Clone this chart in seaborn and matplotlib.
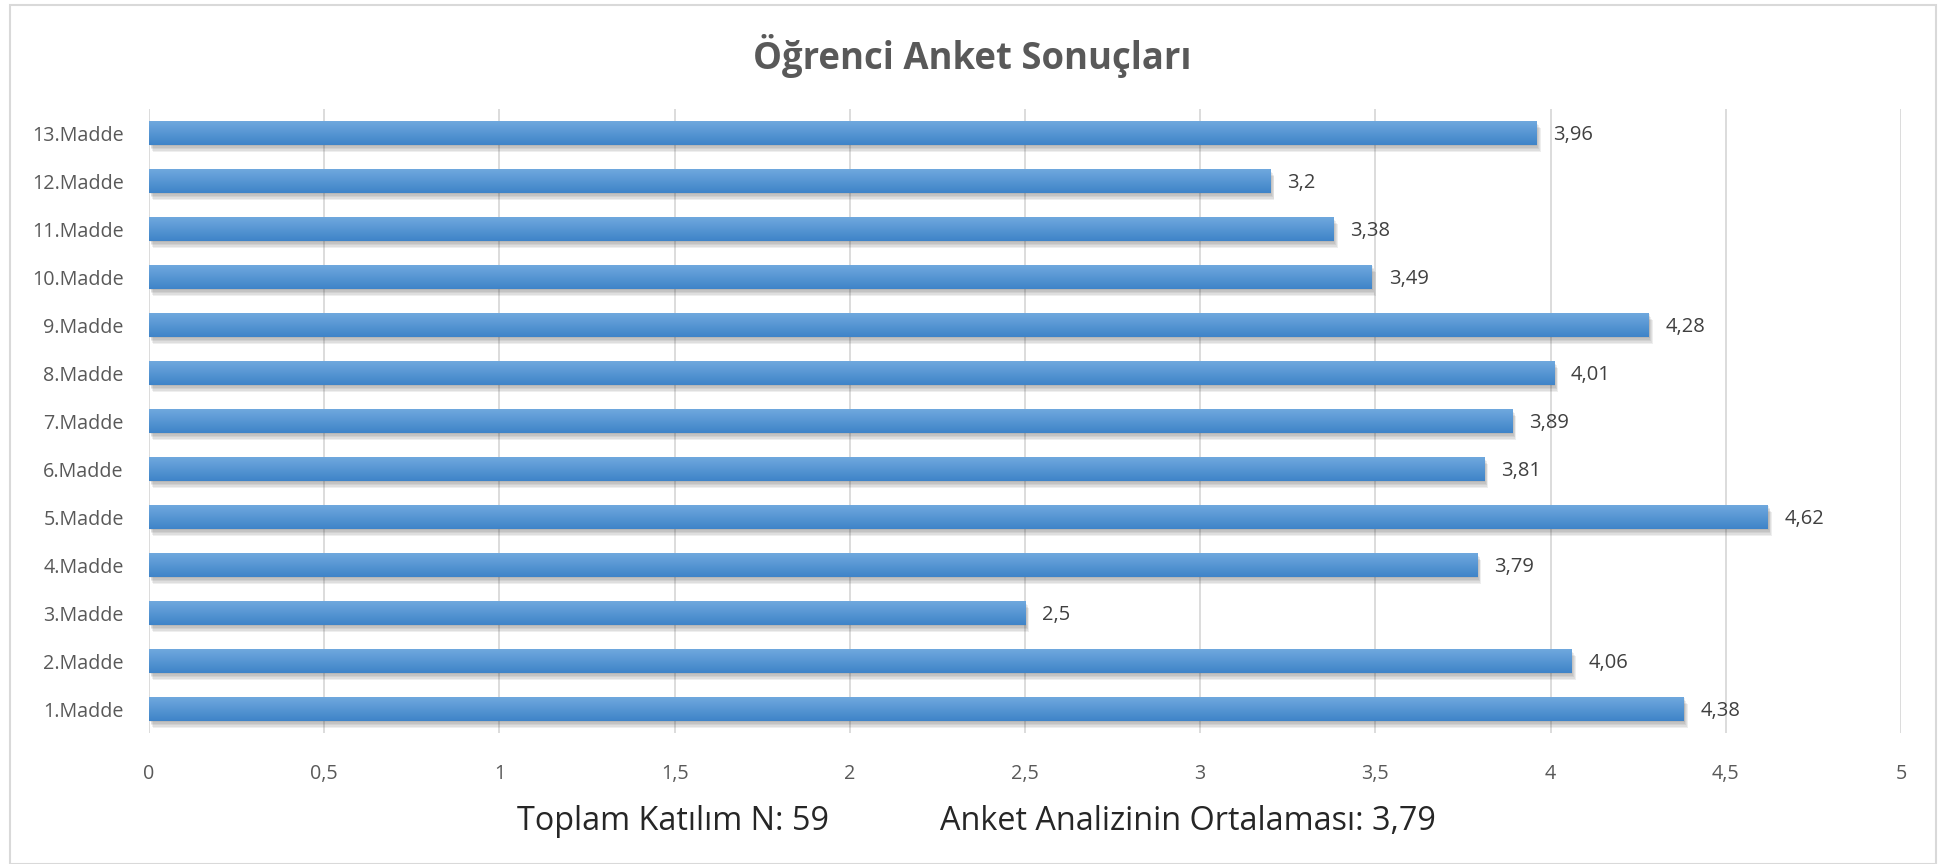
import numpy as np
import pandas as pd
import seaborn as sns
import matplotlib.pyplot as plt
import matplotlib.patheffects as pe
from matplotlib.patches import Rectangle

# survey items, top to bottom as in the chart
items = ['13.Madde', '12.Madde', '11.Madde', '10.Madde', '9.Madde', '8.Madde', '7.Madde',
         '6.Madde', '5.Madde', '4.Madde', '3.Madde', '2.Madde', '1.Madde']
scores = [3.96, 3.2, 3.38, 3.49, 4.28, 4.01, 3.89, 3.81, 4.62, 3.79, 2.5, 4.06, 4.38]
x_ticks = [0, 0.5, 1, 1.5, 2, 2.5, 3, 3.5, 4, 4.5, 5]

title = 'Öğrenci Anket Sonuçları'
note_n = 'Toplam Katılım N: 59'
note_mean = 'Anket Analizinin Ortalaması: 3,79'

df = pd.DataFrame({'madde': items, 'puan': scores})

sns.set_style('white')
plt.rcParams['font.family'] = ['Open Sans', 'DejaVu Sans']

fig = plt.figure(figsize=(19.45, 8.64), dpi=100)
ax = fig.add_axes([0.0766, 0.1516, 0.9008, 0.7222])

sns.barplot(data=df, x='puan', y='madde', color='#5b9bd5', width=0.5, ax=ax,
            saturation=1, linewidth=0, zorder=3)

# gradient fill + soft shadow, like the Excel bar style
grad = np.linspace(0, 1, 64).reshape(-1, 1)
cmap = plt.matplotlib.colors.LinearSegmentedColormap.from_list('bar', ['#6fa8de', '#3f84c8'])
shadow = [pe.SimplePatchShadow(offset=(0.6 * k, -1.0 * k), shadow_rgbFace='#444444', alpha=0.09)
          for k in range(1, 6)]
for p in ax.patches:
    p.set_path_effects(shadow + [pe.Normal()])
    x0, y0 = p.get_x(), p.get_y()
    w, h = p.get_width(), p.get_height()
    im = ax.imshow(grad, cmap=cmap, aspect='auto', extent=[x0, x0 + w, y0 + h, y0],
                   zorder=4, interpolation='bicubic')
    im.set_clip_path(p)

ax.set_xlim(0, 5)
ax.set_ylim(12.5, -0.5)
ax.set_xticks(x_ticks)
ax.set_xticklabels([f'{t:g}'.replace('.', ',') for t in x_ticks])
ax.grid(axis='x', color='#d9d9d9', linewidth=1.3, zorder=0)
ax.set_axisbelow(True)
for s in ax.spines.values():
    s.set_visible(False)
ax.tick_params(axis='both', length=0, labelsize=14.2, labelcolor='#595959')
ax.tick_params(axis='x', pad=22)
ax.tick_params(axis='y', pad=18)
ax.set_xlabel('')
ax.set_ylabel('')

for i, v in enumerate(scores):
    ax.annotate(f'{v:g}'.replace('.', ','), (v, i), xytext=(12, -1.5), textcoords='offset points',
                va='center', ha='left', fontsize=14.5, color='#404040')

fig.text(0.5, 0.935, title, ha='center', va='center', fontsize=26.3, fontweight='bold',
         color='#595959')
fig.text(517 / 1945, 1 - 821 / 864, note_n, ha='left', va='center', fontsize=23.3,
         color='#262626')
fig.text(940 / 1945, 1 - 821 / 864, note_mean, ha='left', va='center', fontsize=23.3,
         color='#262626')

# chart area border
fig.patches.append(Rectangle((9.5 / 1945, 0.0), (1936 - 9.5) / 1945, 1 - 4.5 / 864,
                             transform=fig.transFigure, fill=False, edgecolor='#d9d9d9',
                             linewidth=1.5))

fig.savefig('out.png', dpi=100, facecolor='white')
